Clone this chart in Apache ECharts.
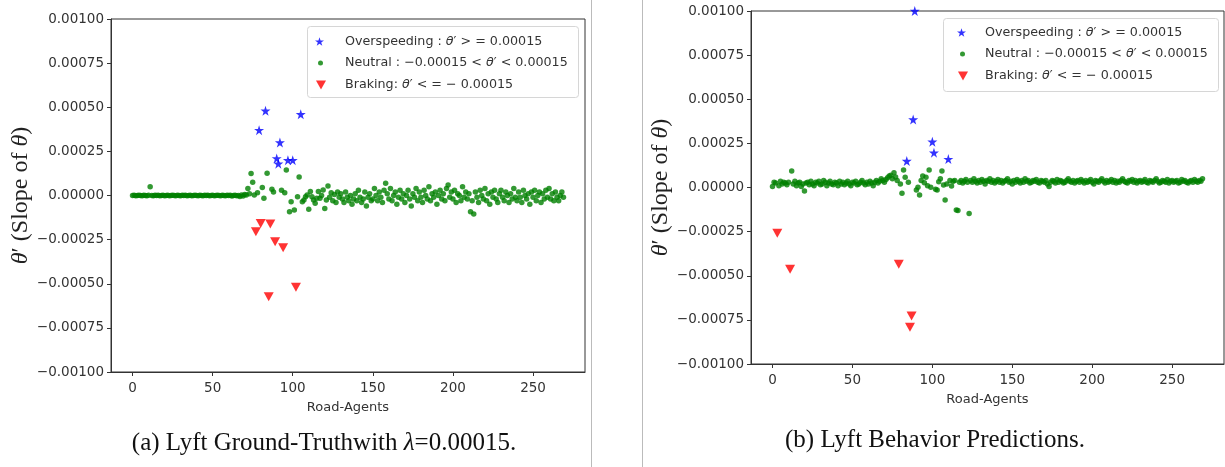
<!DOCTYPE html>
<html><head><meta charset="utf-8">
<script src="https://cdn.jsdelivr.net/npm/echarts@6/dist/echarts.min.js"></script>
<style>html,body{margin:0;padding:0;background:#fff}#c{width:1225px;height:467px}</style>
</head><body><div id="c"></div>
<script>
// ---------- data ----------
const xTicks = [0, 50, 100, 150, 200, 250];
const seriesNames = ['Overspeeding : θ′ > = 0.00015', 'Neutral : −0.00015 < θ′ < 0.00015', 'Braking: θ′ < = − 0.00015'];

// (a) Lyft ground truth
const leftOverX = [79, 83, 90, 91, 92, 97, 100, 105];
const leftOverY = [0.00037, 0.00048, 0.00021, 0.00018, 0.00030, 0.00020, 0.00020, 0.00046];
const leftBrakeX = [77, 80, 85, 86, 89, 94, 102];
const leftBrakeY = [-0.000205, -0.000158, -0.000573, -0.000161, -0.000262, -0.000296, -0.00052];
// neutral values per road-agent index, in units of 1e-5 (null = not neutral)
const leftNeutralE5 = [
  0, 0.1, -0.1, 0, 0.2, 0, -0.1, 0.1, 0, -0.2,
  0.1, 5, 0, -0.1, 0.2, 0, 0.1, -0.2, 0, 0.1,
  -0.1, 0, 0.2, -0.1, 0, 0.1, 0, -0.2, 0.1, 0,
  -0.1, 0.1, 0, 0.2, -0.1, 0, 0.1, -0.1, 0, 0.2,
  0, -0.1, 0.1, 0, -0.2, 0.1, 0, 0.1, -0.1, 0,
  0.2, -0.1, 0, 0.1, 0, -0.2, 0.1, 0, -0.1, 0.1,
  0, 0.2, -0.3, 0, 0.1, -0.2, 0, -0.5, 0.3, -0.3,
  0.5, 0.3, 4, 1, 12.5, 7.5, 0.3, null, 1.5, null,
  null, 4.5, -1.6, null, 12.6, null, null, 3.5, 2, null,
  null, null, null, 3, null, 1.6, 14.4, null, -9.2, -3.5,
  null, -8.2, null, -0.7, 10.5, null, -3.5, -2.5, -0.7, 0.3,
  -7.8, 2.2, -0.7, -2.5, -4.4, -1.5, 2.2, -1.6, 0, 3.1,
  -7.3, -2.5, 5.4, -1, 1.5, -3, 0.5, -4, 2, -1,
  1, -2, -4, 2, -1, -3, 0, -5, -2, 1,
  -3, 3, -1, -4, -2, 2, -6, -1, 1, -3,
  -2, 4, 0, -3, 2, -1, -4, 3, 7, 1,
  -2, 4, -3, 0, 2, -5, -1, 3, -2, 1,
  -4, 0, 3, -2, -6, 1, -1, 4, -3, 2,
  -1, -4, 3, 0, -2, 5, -3, 1, -1, 2,
  -5, 0, 3, -2, 1, -3, 4, 6, -1, 2,
  -2, 3, -4, 1, 0, -3, 5, -1, 2, -2,
  1, -9.2, -3, -10.5, 2, -1, -4, 3, 0, -2,
  4, -3, 1, -5, 2, -1, 3, -2, -4, 1,
  3, -1, -3, 2, 0, -4, 1, -2, 4, -1,
  -3, 2, -1, -4, 3, 0, -2, 1, -5, 2,
  -1, 3, -3, 0, 2, -4, 1, -2, 3, -1,
  4, -2, 1, -3, 2, -1, -3, 0, 2, -1
];

// (b) Lyft behavior predictions
const rightOverX = [84, 88, 89, 100, 101, 110];
const rightOverY = [0.00015, 0.000385, 0.00100, 0.000259, 0.000197, 0.000161];
const rightBrakeX = [3, 11, 79, 86, 87];
const rightBrakeY = [-0.000259, -0.000463, -0.000435, -0.000792, -0.000728];
const rightNeutralE5 = [
  0.5, 3, 2.5, null, 1, 3.5, 2, 3, 2.5, 1.5,
  3, null, 9.3, 2, 3.5, 1, 2.5, 3, 0.5, 2,
  -2, 2.5, 3, 1.5, 3.5, 2, 1, 3, 2.5, 3.5,
  1.5, 2, 4, 3, 1, 2.5, 3.5, 2, 1.5, 3,
  2.5, 1, 3.5, 2, 3, 1.5, 2.5, 3.5, 2, 1,
  3, 2.5, 3.5, 1.5, 2, 3, 4, 2.5, 1.5, 3,
  2, 3.5, 2.5, 1, 3, 4, 2.5, 3.5, 5, 4,
  3, 4.5, 5.5, 6.5, 7, 5, 8.4, 6, 4, null,
  2, -3.3, 9.9, 5.8, null, 3, null, null, null, null,
  -1.4, 0.1, -4.2, 4, 6.5, 2.7, 5.8, 1, 9.9, 0.1,
  null, null, -1, -1.4, 3.3, 5, 9.3, 1.4, -7.1, 2,
  null, 4, 0.8, 3.5, 4, -12.7, -13.1, 3, 4, 2.5,
  3.5, 4.5, 3, -14.8, 4, 3, 5, 3.5, 2.5, 4,
  3, 4.5, 3.5, 2, 4, 3.5, 5, 3, 4, 2.5,
  3.5, 4.5, 3, 4, 2.5, 3.5, 4, 5, 3, 3.5,
  2, 4, 3, 4.5, 3.5, 2.5, 4, 3, 5, 3.5,
  4, 2.5, 3, 4, 3.5, 4.5, 3, 2.5, 4, 3.5,
  3, 4, 2, 0.5, 3, 4, 3.5, 2.5, 4.5, 3,
  4, 3.5, 2.5, 3, 4, 5, 3.5, 3, 4, 2.5,
  3.5, 4, 3, 4.5, 3.5, 2.5, 4, 3, 3.5, 4.5,
  3, 2, 4, 3.5, 3, 4, 5, 3.5, 2.5, 4,
  3, 3.5, 4.5, 3, 4, 2.5, 3.5, 3, 4, 5,
  3.5, 3, 2.5, 4, 3.5, 4.5, 3, 4, 2.5, 3.5,
  4, 3, 3.5, 4.5, 3, 2.5, 4, 3.5, 3, 4,
  5, 3.5, 2.5, 3, 4, 3.5, 3, 4.5, 2.5, 3.5,
  4, 3, 3.5, 4, 2.5, 3, 4.5, 3.5, 4, 3,
  2.5, 3.5, 4, 3, 4.5, 3.5, 3, 4, 3.5, 5
];

// ---------- build ----------
const pairs = (xs, ys) => xs.map((x, i) => [x, ys[i]]);
const neutralPairs = arr => arr.map((v, i) => v === null ? null : [i, v * 1e-5]).filter(p => p !== null);

const STAR = 'path://M50,0L61.2,34.5L97.6,34.5L68.2,55.9L79.4,90.5L50,69.1L20.6,90.5L31.8,55.9L2.4,34.5L38.8,34.5Z';
const TRI_DOWN = 'path://M0,0L100,0L50,88Z';
const BLUE = '#0000ff', GREEN = '#008000', RED = '#ff0000';
const TXT = '#333';
const SANS = 'DejaVu Sans';
const SERIF = 'Liberation Serif';

const grids = [
  {left: 111, top: 19, width: 474, height: 353},
  {left: 751, top: 11, width: 473, height: 353}
].map(g => Object.assign({show: true, borderColor: '#333', borderWidth: 1, backgroundColor: 'transparent'}, g));

function xAxis(gi) {
  return {
    type: 'value', gridIndex: gi, min: -13.45, max: 282.45,
    axisLine: {show: true, onZero: false, lineStyle: {color: '#333'}},
    axisTick: {show: true, customValues: xTicks, length: 4, lineStyle: {color: '#333'}},
    axisLabel: {customValues: xTicks, margin: 9, fontSize: 13.5, color: TXT, fontFamily: SANS},
    splitLine: {show: false},
    name: 'Road-Agents', nameLocation: 'middle', nameGap: 29,
    nameTextStyle: {fontSize: 13, color: TXT, fontFamily: SANS}
  };
}
function yAxis(gi) {
  return {
    type: 'value', gridIndex: gi, min: -0.001, max: 0.001, interval: 0.00025,
    axisLine: {show: true, onZero: false, lineStyle: {color: '#333'}},
    axisTick: {show: true, length: 4, lineStyle: {color: '#333'}},
    axisLabel: {margin: 7, fontSize: 13.5, color: TXT, fontFamily: SANS,
      formatter: v => (v < -1e-12 ? '−' : '') + Math.abs(v).toFixed(5)},
    splitLine: {show: false},
    name: '{i|θ}′ (Slope of {i|θ})', nameLocation: 'middle', nameRotate: 90, nameGap: 74,
    nameTextStyle: {fontSize: 24, color: '#222', fontFamily: SERIF,
      rich: {i: {fontSize: 24, fontStyle: 'italic', fontFamily: SERIF, color: '#222'}}}
  };
}

function plotSeries(gi, overX, overY, neutralArr, brakeX, brakeY) {
  return [
    {name: seriesNames[0], type: 'scatter', xAxisIndex: gi, yAxisIndex: gi, symbol: STAR, symbolSize: 10,
      itemStyle: {color: BLUE}, data: pairs(overX, overY)},
    {name: seriesNames[1], type: 'scatter', xAxisIndex: gi, yAxisIndex: gi, symbol: 'circle', symbolSize: 5.5,
      itemStyle: {color: GREEN}, data: neutralPairs(neutralArr)},
    {name: seriesNames[2], type: 'scatter', xAxisIndex: gi, yAxisIndex: gi, symbol: TRI_DOWN,
      symbolSize: [10, 9], itemStyle: {color: RED}, data: pairs(brakeX, brakeY)}
  ];
}

function legend(nameIdx, left, centerY, w, h, pad) {
  return {
    data: [seriesNames[nameIdx]], left: left, top: centerY - 7.5, padding: 0,
    itemWidth: w, itemHeight: h, selectedMode: false, z: 10,
    formatter: n => n.replace(/θ/g, '{i|θ}'),
    textStyle: {fontSize: 12.7, lineHeight: 15, color: TXT, fontFamily: SANS, padding: [0, 0, 0, pad],
      rich: {i: {fontSize: 12.7, lineHeight: 15, fontStyle: 'italic', fontFamily: SANS, color: TXT}}}
  };
}

const legends = [
  legend(0, 315, 41.5, 9, 9, 16),
  legend(1, 318, 63, 5, 5, 17),
  legend(2, 316, 85, 10, 9, 14),
  legend(0, 957, 32.5, 9, 9, 14),
  legend(1, 960, 54, 5, 5, 15),
  legend(2, 958, 76, 10, 9, 12)
];

const graphic = [
  {type: 'line', shape: {x1: 591.5, y1: 0, x2: 591.5, y2: 467}, style: {stroke: '#bbb', lineWidth: 1}, silent: true},
  {type: 'line', shape: {x1: 642.5, y1: 0, x2: 642.5, y2: 467}, style: {stroke: '#bbb', lineWidth: 1}, silent: true},
  {type: 'rect', z: 3, shape: {x: 307.5, y: 26.5, width: 271, height: 71, r: 3},
    style: {fill: 'rgba(255,255,255,0.8)', stroke: '#d6d6d6', lineWidth: 1}, silent: true},
  {type: 'rect', z: 3, shape: {x: 943.5, y: 18.5, width: 275, height: 73, r: 3},
    style: {fill: 'rgba(255,255,255,0.8)', stroke: '#d6d6d6', lineWidth: 1}, silent: true},
  {type: 'text', x: 324, y: 443, silent: true,
    style: {text: '(a) Lyft Ground-Truthwith {i|λ}=0.00015.', fill: '#111', fontSize: 25, fontFamily: SERIF,
      align: 'center', verticalAlign: 'middle',
      rich: {i: {fontSize: 25, fontStyle: 'italic', fontFamily: SERIF, fill: '#111'}}}},
  {type: 'text', x: 935, y: 440, silent: true,
    style: {text: '(b) Lyft Behavior Predictions.', fill: '#111', fontSize: 25, fontFamily: SERIF,
      align: 'center', verticalAlign: 'middle'}}
];

const chart = echarts.init(document.getElementById('c'));
chart.setOption({
  animation: false,
  backgroundColor: '#fff',
  grid: grids,
  xAxis: [xAxis(0), xAxis(1)],
  yAxis: [yAxis(0), yAxis(1)],
  legend: legends,
  graphic: graphic,
  series: [
    ...plotSeries(0, leftOverX, leftOverY, leftNeutralE5, leftBrakeX, leftBrakeY),
    ...plotSeries(1, rightOverX, rightOverY, rightNeutralE5, rightBrakeX, rightBrakeY)
  ]
});
</script>
</body></html>
